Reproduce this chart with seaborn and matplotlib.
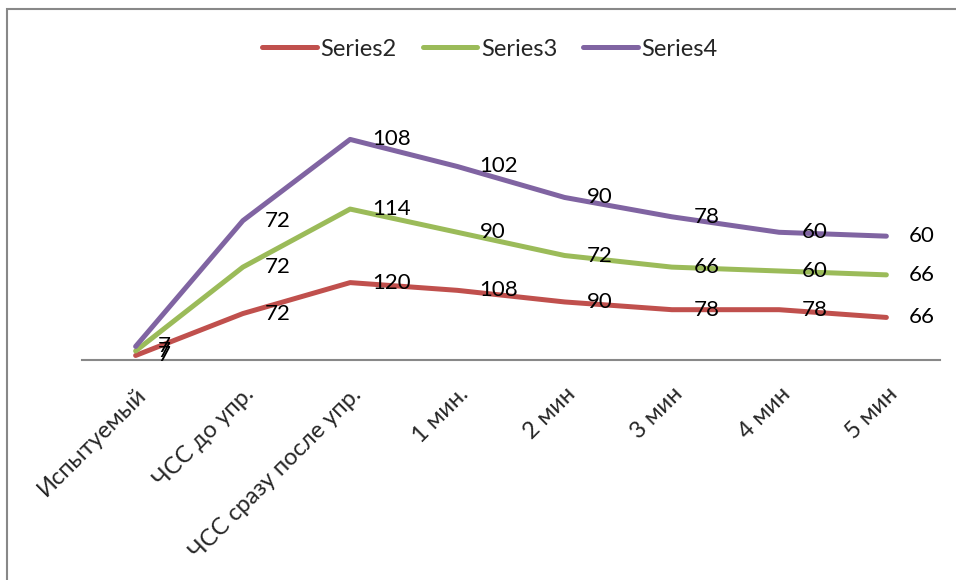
import numpy as np
import pandas as pd
import matplotlib
matplotlib.use("Agg")
import matplotlib.pyplot as plt
import seaborn as sns
from matplotlib.patches import Rectangle

categories = ["Испытуемый", "ЧСС до упр.", "ЧСС сразу после упр.", "1 мин.",
              "2 мин", "3 мин", "4 мин", "5 мин"]
series2 = [7, 72, 120, 108, 90, 78, 78, 66]
series3 = [7, 72, 114, 90, 72, 66, 60, 66]
series4 = [7, 72, 108, 102, 90, 78, 60, 60]
series_names = ["Series2", "Series3", "Series4"]
colors = ["#C0504D", "#9BBB59", "#8064A2"]

sns.set_theme(style="white")
plt.rcParams['font.family'] = ['Lato', 'DejaVu Sans']

fig = plt.figure(figsize=(9.56, 5.8), dpi=100)
ax = fig.add_axes([82/956, 1-360/580, (940-82)/956, 258/580])

vals = np.array([series2, series3, series4], dtype=float)
cum = np.cumsum(vals, axis=0)
x = np.arange(len(categories))
for i, name in enumerate(series_names):
    df = pd.DataFrame({"x": x, "y": cum[i]})
    sns.lineplot(data=df, x="x", y="y", ax=ax, color=colors[i], linewidth=3.6,
                 label=name, solid_capstyle="round")
    for xi, yi, v in zip(x, cum[i], vals[i]):
        ax.annotate(f"{int(v)}", (xi, yi), xytext=(16, 0), textcoords="offset points",
                    ha="left", va="center", fontsize=16, color="black")

ax.set_xlim(-0.5, len(categories) - 0.5)
ax.set_ylim(0, 400)
ax.set_xticks(x)
ax.set_xticklabels(categories, rotation=45, ha="right", rotation_mode="anchor", fontsize=17)
ax.tick_params(axis="x", pad=17, length=0)
ax.set_yticks([])
ax.set_xlabel("")
ax.set_ylabel("")
for s in ["top", "right", "left"]:
    ax.spines[s].set_visible(False)
ax.spines["bottom"].set_color("#888888")
ax.spines["bottom"].set_linewidth(1.5)

leg = ax.legend(loc="center", bbox_to_anchor=(490/956, 1-49/580), bbox_transform=fig.transFigure,
                ncol=3, frameon=False, fontsize=17, handlelength=2.3, handletextpad=0.17,
                columnspacing=1.1)

fig.patches.append(Rectangle((7/956, -0.1), 1.2, 1 - 9/580 + 0.1, transform=fig.transFigure,
                             fill=False, edgecolor="#888888", linewidth=1.5))

fig.savefig("out.png", dpi=100)
